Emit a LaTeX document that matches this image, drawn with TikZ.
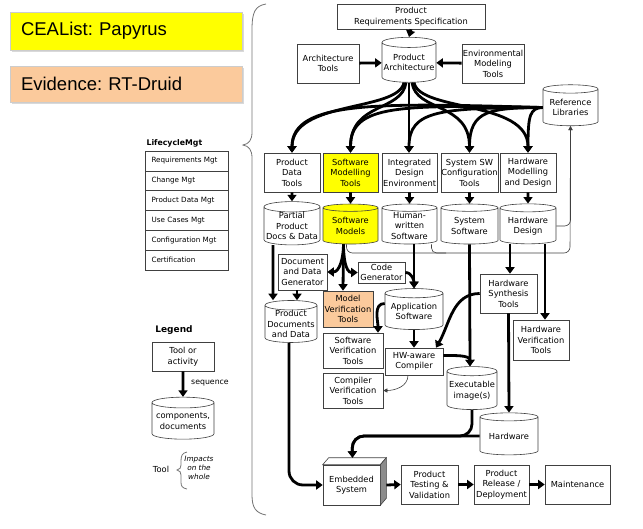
\documentclass[tikz,border=0pt]{standalone}
\usepackage{fontspec}
\setmainfont{DejaVu Sans}
\newfontfamily\titlefont{Liberation Sans}
\usetikzlibrary{arrows.meta,shapes.geometric,shadows}
\definecolor{papyrus}{RGB}{255,255,0}
\definecolor{druid}{RGB}{251,202,156}
\frenchspacing

\begin{document}
\begin{tikzpicture}[x=1pt,y=1pt]

\tikzset{box/.style={draw=black!75,line width=0.6pt,fill=white,align=center,inner sep=0pt,font=\fontsize{8.3}{10.5}\selectfont}}
\tikzset{cyl/.style={box,cylinder,shape border rotate=90,aspect=0.2}}
\tikzset{sz/.style 2 args={minimum width=#1pt,minimum height=#2pt}}
\tikzset{line/.style={draw,line width=2.8pt}}
\tikzset{arrow/.style={line,-{Triangle[length=6.5pt,width=9pt]}}}
\tikzset{thinline/.style={draw=black!75,line width=0.6pt}}
\tikzset{thinarrow/.style={thinline,-{Triangle[length=4pt,width=4pt]}}}
\tikzset{row/.style={draw=black!75,line width=0.6pt,minimum width=83pt,minimum height=19.8pt,text width=70pt,align=left,inner sep=0pt,font=\fontsize{7.2}{8.5}\selectfont}}
\tikzset{titlebox/.style={draw=black!20,line width=0.4pt,minimum width=232pt,text width=210pt,align=left,inner sep=0pt,drop shadow={shadow xshift=2pt,shadow yshift=-2pt,opacity=0.3},font=\titlefont\fontsize{18.5}{21}\selectfont}}
\tikzset{brace/.style={draw=black!55,line width=0.8pt}}

\useasboundingbox (0,0) rectangle (643,-528);

% left column
\node[titlebox,fill=papyrus,minimum height=38pt] (ceal) at (126,-31) {CEAList: Papyrus};
\node[titlebox,fill=druid,minimum height=36pt] (evid) at (126,-84) {Evidence: RT-Druid};

\node[anchor=west,font=\bfseries\fontsize{7.8}{9}\selectfont] (lcm) at (143,-143) {LifecycleMgt};
\node[row] (r1) at (186.5,-160.9) {Requirements Mgt};
\node[row] (r2) at (186.5,-180.7) {Change Mgt};
\node[row] (r3) at (186.5,-200.5) {Product Data Mgt};
\node[row] (r4) at (186.5,-220.3) {Use Cases Mgt};
\node[row] (r5) at (186.5,-240.1) {Configuration Mgt};
\node[row] (r6) at (186.5,-259.9) {Certification};

\node[font=\bfseries\fontsize{9}{10}\selectfont] (leg) at (174,-330) {Legend};
\node[box,sz={62}{29}] (tool) at (183,-356.5) {Tool or\\activity};
\node[cyl,sz={62}{42}] (comp) at (183,-421) {components,\\documents};
\node[font=\fontsize{7.8}{9}\selectfont] (seq) at (210,-383) {sequence};
\path[arrow] (tool.south) -- (comp.north);
\node[font=\fontsize{8.3}{9}\selectfont] (tl) at (161,-469) {Tool};
\node[font=\itshape\fontsize{7.3}{9}\selectfont,align=center] (imp) at (199,-468) {Impacts\\on the\\whole};
\draw[brace] (187,-452) .. controls (182,-453) and (181,-456) .. (181,-461) -- (181,-465)
  .. controls (181,-468) and (180,-469) .. (177,-470) .. controls (180,-471) and (181,-472) .. (181,-475)
  -- (181,-482) .. controls (181,-486) and (182,-488) .. (187,-489);

% big brace
\draw[brace] (266,-4) .. controls (255,-6) and (252,-12) .. (252,-30) -- (252,-132)
  .. controls (252,-140) and (249,-144) .. (243,-145) .. controls (249,-146) and (252,-150) .. (252,-158)
  -- (252,-495) .. controls (252,-508) and (256,-513) .. (266,-515);

% top
\node[box,sz={148}{25}] (prs) at (411,-16.5) {Product\\Requirements Specification};
\node[cyl,sz={54}{45}] (parch) at (409,-62.5) {Product\\Architecture};
\node[box,sz={62}{39}] (archt) at (328,-63.5) {Architecture\\Tools};
\node[box,sz={62}{39}] (envt) at (493,-63.5) {Environmental\\Modeling\\Tools};
\node[cyl,sz={55}{41}] (reflib) at (570.5,-107.5) {Reference\\Libraries};

% tools
\node[box,sz={56}{39}] (pdt) at (292,-172.5) {Product\\Data\\Tools};
\node[box,sz={55}{39},fill=papyrus] (smt) at (350.5,-172.5) {Software\\Modelling\\Tools};
\node[box,sz={55}{39}] (ide) at (409.5,-172.5) {Integrated\\Design\\Environment};
\node[box,sz={57}{39}] (sswc) at (469.5,-172.5) {System SW\\Configuration\\Tools};
\node[box,sz={56}{39}] (hwmd) at (528,-172.5) {Hardware\\Modelling\\and Design};

% artefacts
\node[cyl,sz={56}{40}] (ppd) at (292,-226) {Partial\\Product\\Docs \& Data};
\node[cyl,sz={55}{40},fill=papyrus] (swm) at (350.5,-226) {Software\\Models};
\node[cyl,sz={55}{40}] (hws) at (409.5,-226) {Human-\\written\\Software};
\node[cyl,sz={57}{40}] (syss) at (469.5,-226) {System\\Software};
\node[cyl,sz={56}{40}] (hwd) at (528,-226) {Hardware\\Design};

% lower part
\node[box,sz={49}{36}] (ddg) at (302.5,-272) {Document\\and Data\\Generator};
\node[box,sz={47}{21}] (cg) at (381.5,-272.5) {Code\\Generator};
\node[box,sz={50}{36},fill=druid] (mvt) at (348,-309) {Model\\Verification\\Tools};
\node[cyl,sz={52}{42}] (pdd) at (291,-324) {Product\\Documents\\and Data};
\node[cyl,sz={58}{41}] (apps) at (414,-311.5) {Application\\Software};
\node[box,sz={60}{35}] (svt) at (353,-350.5) {Software\\Verification\\Tools};
\node[box,sz={58}{27}] (hwc) at (414,-361.5) {HW-aware\\Compiler};
\node[box,sz={60}{35}] (cvt) at (353,-390.5) {Compiler\\Verification\\Tools};
\node[box,sz={57}{39}] (hst) at (508.5,-293.5) {Hardware\\Synthesis\\Tools};
\node[box,sz={56}{40}] (hvt) at (541,-340) {Hardware\\Verification\\Tools};
\node[cyl,sz={50}{43}] (exe) at (472,-390.5) {Executable\\image(s)};
\node[cyl,sz={58}{42}] (hw) at (509,-436) {Hardware};

% bottom row
\node[box,sz={57}{40}] (emb) at (351.5,-485) {Embedded\\System};
\path[thinline,fill=white] (emb.north west) -- ++(6,7) -- ([shift={(6,7)}]emb.north east) -- (emb.north east) -- cycle;
\path[thinline,fill=black!45] (emb.north east) -- ++(6,7) -- ([shift={(6,7)}]emb.south east) -- (emb.south east) -- cycle;
\node[box,sz={57}{39}] (ptv) at (429.5,-484.5) {Product\\Testing \&\\Validation};
\node[box,sz={55}{39}] (prd) at (501.5,-484.5) {Product\\Release /\\Deployment};
\node[box,sz={65}{39}] (mnt) at (577.5,-484.5) {Maintenance};

% connectors at the top
\path[arrow] (prs.south) -- (parch.north);
\path[arrow] (archt) -- (parch);
\path[arrow] (envt) -- (parch);

\path[arrow] ([xshift=-5pt]parch.south) .. controls (398,-112) and (292,-100) .. (pdt.north);
\path[arrow] ([xshift=-3pt]parch.south) .. controls (402,-112) and (350.5,-102) .. (smt.north);
\path[arrow] (parch.south) -- (parch.south |- ide.north);
\path[arrow] ([xshift=3pt]parch.south) .. controls (416,-112) and (469.5,-102) .. (sswc.north);
\path[arrow] ([xshift=5pt]parch.south) .. controls (420,-112) and (528,-100) .. (hwmd.north);

\path[arrow] (reflib.west) .. controls (380,-103) and (292,-100) .. (pdt.north);
\path[arrow] (reflib.west) .. controls (400,-105) and (350.5,-104) .. (smt.north);
\path[arrow] (reflib.west) .. controls (440,-108) and (409,-110) .. (parch.south |- ide.north);
\path[arrow] (reflib.west) .. controls (490,-108) and (469.5,-110) .. (sswc.north);
\path[arrow] (reflib.west) .. controls (530,-108) and (528,-115) .. (hwmd.north);

\path[arrow] (pdt) -- (ppd);
\path[arrow] (smt) -- (swm);
\path[arrow] (ide) -- (hws);
\path[arrow] (sswc) -- (syss);
\path[arrow] (hwmd) -- (hwd);

% feedback to the libraries
\path[thinarrow,rounded corners=6pt] (hwd.east) -| (reflib.south);
\path[thinarrow,rounded corners=6pt] ([xshift=-4pt]swm.south) |- (570,-253) -- (reflib.south);
\path[thinline,rounded corners=5pt] ([xshift=22pt]hws.south) |- (446,-253);

% software branch
\path[arrow] ([xshift=-19pt]ppd.south) -- ([xshift=-18pt]pdd.north);
\path[arrow] ([xshift=-5.5pt]ddg.south) -- ([xshift=-5.5pt]ddg.south |- pdd.north);
\path[arrow] ([xshift=-7pt]swm.south) to[out=-90,in=0] (ddg.east);
\path[arrow] ([xshift=-7pt]swm.south) -- ([xshift=-5pt]mvt.north);
\path[arrow] ([xshift=-7pt]swm.south) to[out=-90,in=180] (cg.west);
\path[arrow] (apps.north |- hws.south) -- (apps.north);
\path[arrow] (cg.east) to[out=0,in=90] (apps.north);
\path[arrow] ([yshift=8pt]apps.west) to[out=180,in=90] ([xshift=25pt]svt.north);
\path[arrow] (apps.south) -- (hwc.north);
\path[thinarrow] ([xshift=-6pt]hwc.south) to[out=-90,in=0] (cvt.east);
\path[arrow] ([yshift=6pt]hwc.east) to[out=0,in=90] ([xshift=-2pt]exe.north);
\path[arrow] (syss.south) -- ([xshift=-2pt]exe.north);

% hardware branch
\path[arrow] ([xshift=-18pt]hwd.south) -- ([xshift=1.5pt]hst.north);
\path[arrow] ([xshift=17pt]hwd.south) -- ([xshift=4pt]hvt.north);
\path[arrow] (hst.west) to[out=180,in=60] ([xshift=22pt]hwc.north);
\path[arrow] (hst.south) -- (hw.north);

% integration
\path[arrow,rounded corners=14pt] ([xshift=-2pt]pdd.south) |- (emb.west);
\path[arrow,rounded corners=12pt] (exe.south) |- (352,-436) -- ([xshift=1pt,yshift=7pt]emb.north);
\path[arrow,rounded corners=12pt] (hw.west) -- (352,-436) -- ([xshift=1pt,yshift=7pt]emb.north);
\path[arrow] ([xshift=6pt]emb.east) -- (ptv.west);
\path[arrow] (ptv) -- (prd);
\path[arrow] (prd) -- (mnt);

\end{tikzpicture}
\end{document}
